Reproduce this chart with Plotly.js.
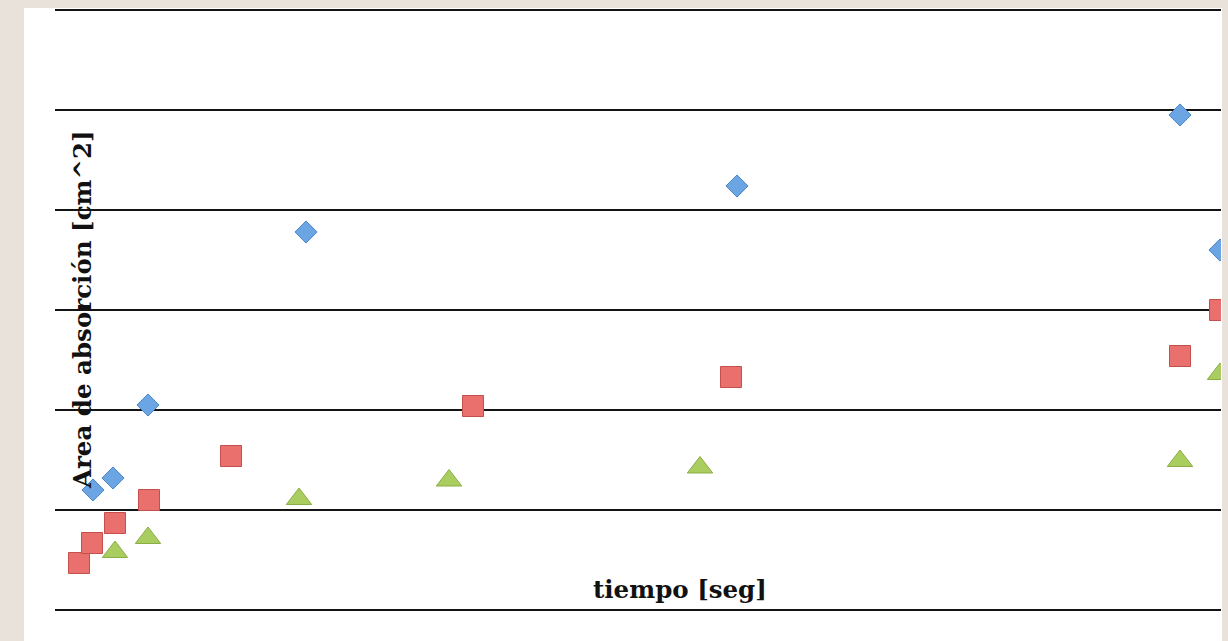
<!DOCTYPE html>
<html>
<head>
<meta charset="utf-8">
<script src="https://cdn.plot.ly/plotly-3.0.1.min.js"></script>
<style>html,body{margin:0;padding:0;background:#e9e2da;}#chart{width:1228px;height:641px;}</style>
</head>
<body>
<div id="chart"></div>
<script>
// tiempo [seg] (x) and Area de absorción [cm^2] (y) for three series
const serieAzulX = [38, 58, 93, 251, 682, 1125, 1165];
const serieAzulY = [12.0, 13.2, 20.5, 37.8, 42.4, 49.5, 36.0];
const serieRojaX = [24, 37, 60, 94, 176, 418, 676, 1125, 1165];
const serieRojaY = [4.7, 6.7, 8.7, 11.0, 15.4, 20.4, 23.3, 25.4, 30.0];
const serieVerdeX = [60, 93, 244, 394, 645, 1125, 1165];
const serieVerdeY = [5.8, 7.2, 11.1, 12.95, 14.25, 14.9, 23.6];

const xTitle = 'tiempo [seg]';
const yTitle = 'Area de absorción [cm^2]';

const traces = [
  {x: serieAzulX, y: serieAzulY, mode: 'markers', type: 'scatter', name: 'Serie 1',
   marker: {symbol: 'diamond', size: 17, color: '#6ba5e3', line: {color: '#4a84c4', width: 1}}},
  {x: serieRojaX, y: serieRojaY, mode: 'markers', type: 'scatter', name: 'Serie 2',
   marker: {symbol: 'square', size: 21, color: '#e9706d', line: {color: '#c4504d', width: 1}}},
  {x: serieVerdeX, y: serieVerdeY, mode: 'markers', type: 'scatter', name: 'Serie 3',
   marker: {symbol: 'triangle-up', size: 22, color: '#a9cd5e', line: {color: '#8bad45', width: 1}}}
];

const layout = {
  width: 1228, height: 641,
  margin: {l: 55, r: 7, t: 5, b: 26, pad: 0},
  paper_bgcolor: '#e9e2da',
  plot_bgcolor: 'rgba(0,0,0,0)',
  showlegend: false,
  xaxis: {range: [0, 1166], showgrid: false, zeroline: false, showticklabels: false, ticks: '', showline: false},
  yaxis: {range: [-0.5, 60.5], dtick: 10, tick0: 0, showgrid: true, gridcolor: '#151515', gridwidth: 2,
          zeroline: false, showticklabels: false, ticks: '', showline: false},
  shapes: [
    {type: 'rect', xref: 'paper', yref: 'paper', layer: 'below',
     x0: -0.0266, x1: 1.0009, y0: -0.2, y1: 0.9951,
     fillcolor: '#ffffff', line: {width: 0}}
  ],
  annotations: [
    {text: '<b>' + xTitle + '</b>', xref: 'paper', yref: 'paper', x: 0.536, y: 0.041,
     xanchor: 'center', yanchor: 'middle', showarrow: false,
     font: {family: 'DejaVu Serif', size: 24.5, color: '#111'}},
    {text: '<b>' + yTitle + '</b>', xref: 'paper', yref: 'paper', x: 0.0232, y: 0.5,
     xanchor: 'center', yanchor: 'middle', showarrow: false, textangle: -90,
     font: {family: 'DejaVu Serif', size: 24.5, color: '#111'}}
  ]
};

Plotly.newPlot('chart', traces, layout, {displayModeBar: false, staticPlot: true});
</script>
</body>
</html>
